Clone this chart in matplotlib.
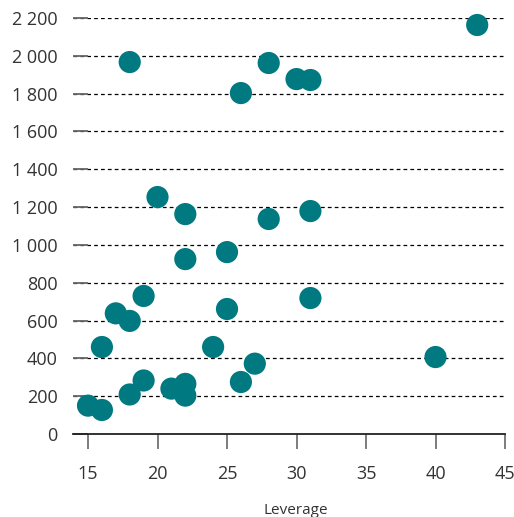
import matplotlib
matplotlib.use("Agg")
import matplotlib.pyplot as plt

leverage = [43, 18, 28, 30, 31, 26, 20, 22, 28, 31, 22, 25, 19, 17, 18, 25, 31,
            16, 24, 27, 40, 19, 18, 15, 16, 21, 22, 22, 26]
values = [2163, 1967, 1962, 1877, 1872, 1803, 1253, 1163, 1137, 1179, 925, 962, 730,
          638, 598, 661, 719, 460, 460, 372, 407, 283, 209, 150, 127, 240, 265, 203, 275]
xticks = [15, 20, 25, 30, 35, 40, 45]
yticks = [0, 200, 400, 600, 800, 1000, 1200, 1400, 1600, 1800, 2000, 2200]
ytick_labels = ["0", "200", "400", "600", "800", "1 000", "1 200", "1 400",
                "1 600", "1 800", "2 000", "2 200"]

plt.rcParams['font.family'] = ['Open Sans', 'DejaVu Sans']
fig = plt.figure(figsize=(5.14, 5.17), dpi=100)
ax = fig.add_axes([73/514, 1-434/517, 432/514, 416/517])

ax.scatter(leverage, values, s=255, color='#007a80', edgecolors='none', zorder=3, clip_on=False)

ax.set_xlim(13.92, 45)
ax.set_ylim(0, 2200)
ax.set_xticks(xticks)
ax.set_yticks(yticks)
ax.set_yticklabels(ytick_labels)

for y in yticks[1:]:
    ax.axhline(y, color='black', linestyle=(0, (3, 2.5)), linewidth=0.9, zorder=1)

for s in ['top', 'right', 'left']:
    ax.spines[s].set_visible(False)
ax.spines['bottom'].set_linewidth(1.3)
ax.spines['bottom'].set_color('#222222')

ax.tick_params(axis='y', direction='in', length=11, width=1.3, color='#666666',
               pad=11, labelsize=13, labelcolor='#333333')
ax.tick_params(axis='x', direction='out', length=10.5, width=1.2, color='#666666',
               pad=12, labelsize=13, labelcolor='#333333')

fig.text(296/514, 1-510/517, "Leverage", ha='center', va='center', fontsize=11, color='#333333')

fig.savefig("out.png", dpi=100)
